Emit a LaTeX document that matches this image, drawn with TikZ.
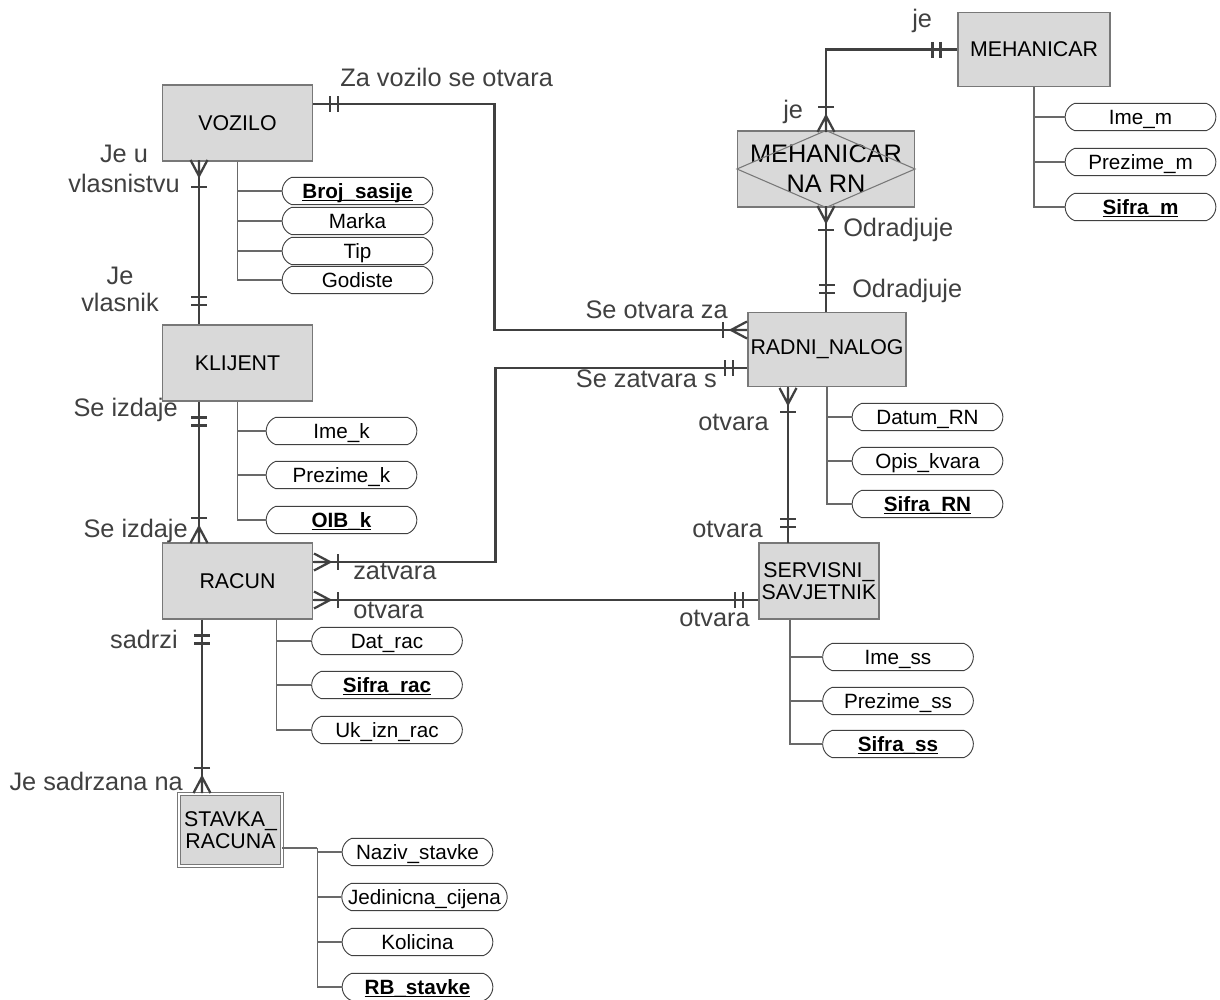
\documentclass[tikz,border=0pt]{standalone}
\usepackage{fontspec}
\setmainfont{Liberation Sans}
\usetikzlibrary{shapes.misc}

\definecolor{entfill}{RGB}{217,217,217}
\definecolor{entline}{RGB}{120,120,120}
\definecolor{relline}{RGB}{64,64,64}
\definecolor{attline}{RGB}{105,105,105}

% underlined key attribute
\newcommand{\keyul}[1]{\setbox0\hbox{#1}\rlap{\rule[-2.2pt]{\wd0}{1.2pt}}\box0}

\begin{document}
\begin{tikzpicture}[
  x=0.75pt, y=-0.75pt,
  entity/.style={draw=entline, fill=entfill, line width=0.8pt, minimum width=113pt, minimum height=57pt, inner sep=1pt, align=center, font=\fontsize{16}{17}\selectfont},
  attr/.style={draw=relline, fill=white, line width=0.7pt, rounded rectangle, rounded rectangle arc length=140, minimum width=113pt, minimum height=20.5pt, inner sep=0pt, text height=11.1pt, text depth=0pt, font=\fontsize{15.5}{16}\selectfont},
  key/.style={attr, font=\fontsize{15.5}{16}\selectfont\bfseries},
  rel/.style={draw=relline, line width=2.1pt},
  branch/.style={draw=attline, line width=0.8pt},
  lbl/.style={text=relline, inner sep=0pt, font=\fontsize{19}{22.5}\selectfont},
  bar/.pic={\draw[rel, line width=1.7pt] (0,-8) -- (0,8);},
  bars/.pic={\draw[rel, line width=1.7pt] (-4,-8) -- (-4,8) (4,-8) -- (4,8);},
  crow/.pic={\draw[rel, line width=1.7pt] (16,-8.5) -- (0,0) -- (16,8.5) (0,0) -- (16,0);},
]
\useasboundingbox (0,0) rectangle (1220,999);

% entities
\node[entity] (vozilo) at (237.5,123) {VOZILO};
\node[entity] (klijent) at (237.5,363) {KLIJENT};
\node[entity] (racun) at (237.5,581) {RACUN};
\node[entity, minimum width=77pt, minimum height=54pt, double=white, double distance=1.6pt] (stavka) at (230.5,830) {STAVKA\_\\RACUNA};
\node[entity, minimum width=118.5pt, minimum height=56pt] (nalog) at (827,349.5) {RADNI\_NALOG};
\node[entity, minimum width=90pt] (savjetnik) at (819,581) {SERVISNI\_\\SAVJETNIK};
\node[entity, minimum width=114pt, minimum height=56pt] (mehanicar) at (1034,49.5) {MEHANICAR};
\node[entity, minimum width=132.75pt, font=\fontsize{19}{22.5}\selectfont] (mnr) at (826,169) {MEHANICAR\\NA RN};
\draw[entline, line width=0.8pt] (mnr.north) -- (mnr.east) -- (mnr.south) -- (mnr.west) -- cycle;

% attributes
\node[key] (brojs) at (357.5,191) {\keyul{Broj\_sasije}};
\node[attr] (marka) at (357.5,221) {Marka};
\node[attr] (tip) at (357.5,251) {Tip};
\node[attr] (godiste) at (357.5,280) {Godiste};
\draw[branch] (vozilo.south) |- (brojs.west);
\draw[branch] (vozilo.south) |- (marka.west);
\draw[branch] (vozilo.south) |- (tip.west);
\draw[branch] (vozilo.south) |- (godiste.west);

\node[attr] (imek) at (341.5,431) {Ime\_k};
\node[attr] (prezimek) at (341.5,475) {Prezime\_k};
\node[key] (oibk) at (341.5,520) {\keyul{OIB\_k}};
\draw[branch] (klijent.south) |- (imek.west);
\draw[branch] (klijent.south) |- (prezimek.west);
\draw[branch] (klijent.south) |- (oibk.west);

\node[attr] (datrac) at (387,641) {Dat\_rac};
\node[key] (sifrarac) at (387,685) {\keyul{Sifra\_rac}};
\node[attr] (ukizn) at (387,730) {Uk\_izn\_rac};
\draw[branch] ([xshift=28.9pt]racun.south) |- (datrac.west);
\draw[branch] ([xshift=28.9pt]racun.south) |- (sifrarac.west);
\draw[branch] ([xshift=28.9pt]racun.south) |- (ukizn.west);

\node[attr] (datumrn) at (927.5,417) {Datum\_RN};
\node[attr] (opis) at (927.5,461) {Opis\_kvara};
\node[key] (sifrarn) at (927.5,504) {\keyul{Sifra\_RN}};
\draw[branch] (nalog.south) |- (datumrn.west);
\draw[branch] (nalog.south) |- (opis.west);
\draw[branch] (nalog.south) |- (sifrarn.west);

\node[attr] (imess) at (898,657) {Ime\_ss};
\node[attr] (prezimess) at (898,701) {Prezime\_ss};
\node[key] (sifrass) at (898,744) {\keyul{Sifra\_ss}};
\draw[branch] ([xshift=-21.75pt]savjetnik.south) |- (imess.west);
\draw[branch] ([xshift=-21.75pt]savjetnik.south) |- (prezimess.west);
\draw[branch] ([xshift=-21.75pt]savjetnik.south) |- (sifrass.west);

\node[attr] (imem) at (1140.5,117) {Ime\_m};
\node[attr] (prezimem) at (1140.5,162) {Prezime\_m};
\node[key] (sifram) at (1140.5,207) {\keyul{Sifra\_m}};
\draw[branch] (mehanicar.south) |- (imem.west);
\draw[branch] (mehanicar.south) |- (prezimem.west);
\draw[branch] (mehanicar.south) |- (sifram.west);

\node[attr] (naziv) at (417.5,852) {Naziv\_stavke};
\node[attr, minimum width=124pt] (jedcij) at (424.5,897) {Jedinicna\_cijena};
\node[attr] (kolicina) at (417.5,942) {Kolicina};
\node[key] (rbst) at (417.5,987) {\keyul{RB\_stavke}};
\draw[branch] ([yshift=-13.5pt]stavka.east) -- ++(35,0) coordinate (sj);
\draw[branch] (sj) |- (naziv.west);
\draw[branch] (sj) |- (jedcij.west);
\draw[branch] (sj) |- (kolicina.west);
\draw[branch] (sj) |- (rbst.west);

% relationships
\draw[rel] ([yshift=14.25pt]vozilo.east) -- ++(181,0) |- ([yshift=14.6pt]nalog.west);
\draw[rel] ([yshift=14.25pt]racun.east) -- ++(182,0) |- ([yshift=-13.9pt]nalog.west);
\draw[rel] ([yshift=-14.25pt]racun.east) -- ([yshift=-14.25pt]savjetnik.west);
\draw[rel] ([xshift=-29.25pt]nalog.south) -- ++(0,156);
\draw[rel] (mnr.south) -- (mnr.south |- nalog.north);
\draw[rel] (mnr.north) |- (mehanicar.west);
\draw[rel] ([xshift=-28.9pt]vozilo.south) -- ([xshift=-28.9pt]klijent.north);
\draw[rel] ([xshift=-28.9pt]klijent.south) -- ([xshift=-28.9pt]racun.north);
\draw[rel] ([xshift=-26.6pt]racun.south) -- ++(0,173);

% cardinalities
\path (334,104) pic{bars};
\path (731,330) pic{crow} (723,330) pic{bar};
\path (330,562) pic[rotate=180]{crow} (338,562) pic{bar} (729,368) pic{bars};
\path (330,600) pic[rotate=180]{crow} (338,600) pic{bar} (739,600) pic{bars};
\path (788,404) pic[rotate=90]{crow} (788,412) pic[rotate=90]{bar} (788,523) pic[rotate=90]{bars};
\path (826,222) pic[rotate=90]{crow} (826,230) pic[rotate=90]{bar} (827,289) pic[rotate=90]{bars};
\path (826,116) pic[rotate=-90]{crow} (826,107) pic[rotate=-90]{bar} (936.5,50) pic{bars};
\path (199,176) pic[rotate=90]{crow} (199,187) pic[rotate=90]{bar} (199,301) pic[rotate=90]{bars};
\path (199,421.5) pic[rotate=90]{bars} (199,527) pic[rotate=-90]{crow} (199,518) pic[rotate=-90]{bar};
\path (202,639.5) pic[rotate=90]{bars} (202,777) pic[rotate=-90]{crow} (202,768) pic[rotate=-90]{bar};

% labels
\node[lbl, anchor=base west] (lzavozilo) at (340,87) {Za vozilo se otvara};
\node[lbl, anchor=north, align=center] (ljeu) at (124,145) {Je u\\vlasnistvu};
\node[lbl, anchor=north, align=center, font=\fontsize{19}{20.25}\selectfont] (ljevl) at (120,267) {Je\\vlasnik};
\node[lbl, anchor=base east] (lizd1) at (178,416) {Se izdaje};
\node[lbl, anchor=base east] (lizd2) at (188,537) {Se izdaje};
\node[lbl, anchor=base east] (lsadrzi) at (178,648) {sadrzi};
\node[lbl, anchor=base east] (lsadrzana) at (183,790) {Je sadrzana na};
\node[lbl, anchor=base west] (lzatvara) at (353,579) {zatvara};
\node[lbl, anchor=base west] (lotv1) at (353,618) {otvara};
\node[lbl, anchor=base east] (lotv2) at (750,626) {otvara};
\node[lbl, anchor=base east] (lseotv) at (728,318) {Se otvara za};
\node[lbl, anchor=base east] (lsezatv) at (717,387) {Se zatvara s};
\node[lbl, anchor=base east] (lotv3) at (769,430) {otvara};
\node[lbl, anchor=base east] (lotv4) at (763,537) {otvara};
\node[lbl, anchor=base west] (lodr1) at (843,236) {Odradjuje};
\node[lbl, anchor=base west] (lodr2) at (852,297) {Odradjuje};
\node[lbl, anchor=base west] (lje1) at (912,28) {je};
\node[lbl, anchor=base west] (lje2) at (783,118) {je};
\end{tikzpicture}
\end{document}
